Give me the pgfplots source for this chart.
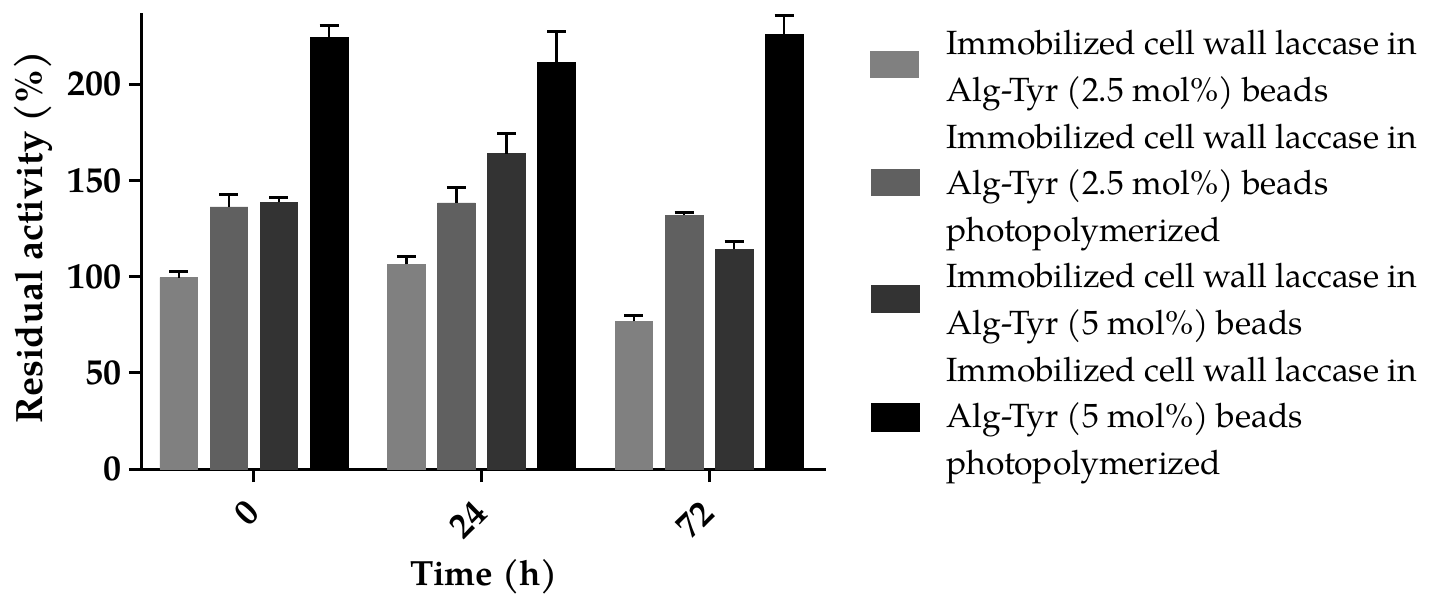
\documentclass[border=0pt]{standalone}
\usepackage{fontspec}
\setmainfont{TeX Gyre Pagella}
\usepackage{pgfplots}
\usepackage{pgfplotstable}
\pgfplotsset{compat=1.18}
\definecolor{c1}{RGB}{128,128,128}
\definecolor{c2}{RGB}{96,96,96}
\definecolor{c3}{RGB}{51,51,51}
\definecolor{c4}{RGB}{0,0,0}
\pgfplotstableread{
x y1 e1 y2 e2 y3 e3 y4 e4
0 99.5 3.0 136.2 6.6 138.6 2.4 224.1 6.6
1 106.3 4.4 138.3 8.0 163.9 10.7 211.3 16.3
2 76.7 3.0 132.0 1.4 114.1 4.4 225.9 9.8
}\datatable
\pgfplotsset{
  errstyle/.style={error bars/.cd, y dir=plus, y explicit,
    error bar style={line width=1.3pt, black},
    error mark options={rotate=90, mark size=4.75pt, line width=1.5pt, black}},
}
\begin{document}
\begin{tikzpicture}
\useasboundingbox (-71pt,-62.5pt) rectangle (649pt,234.5pt);
\begin{axis}[
  at={(0,0)}, anchor=south west,
  scale only axis, width=342pt, height=228pt,
  xmin=-0.492, xmax=2.514, ymin=0, ymax=237,
  clip=false,
  axis x line=bottom, axis y line=left,
  axis line style={-, line width=1.5pt, black},
  xtick={0,1,2}, xticklabels={0,24,72},
  ytick={0,50,100,150,200},
  tick align=outside, major tick length=6.5pt,
  tick style={line width=1.5pt, black},
  /pgf/number format/assume math mode=true,
  ticklabel style={font=\bfseries\fontsize{18}{18}\selectfont},
  xticklabel style={rotate=45, anchor=east, xshift=-5.66pt, yshift=-8.49pt},
  xlabel={Time (h)}, ylabel={Residual activity (\%)},
  xlabel style={font=\bfseries\fontsize{17.5}{17.5}\selectfont, at={(axis description cs:0.5,0)}, anchor=base, yshift=-58pt},
  ylabel style={font=\bfseries\fontsize{19}{19}\selectfont, at={(axis description cs:-0.1462,0.5077)}, anchor=base},
]
\addplot[ybar, bar width=0.166, bar shift=0pt, fill=c1, draw=c1, errstyle] table[x expr=\thisrow{x}-0.33, y=y1, y error=e1] {\datatable};
\addplot[ybar, bar width=0.166, bar shift=0pt, fill=c2, draw=c2, errstyle] table[x expr=\thisrow{x}-0.11, y=y2, y error=e2] {\datatable};
\addplot[ybar, bar width=0.166, bar shift=0pt, fill=c3, draw=c3, errstyle] table[x expr=\thisrow{x}+0.11, y=y3, y error=e3] {\datatable};
\addplot[ybar, bar width=0.166, bar shift=0pt, fill=c4, draw=c4, errstyle] table[x expr=\thisrow{x}+0.33, y=y4, y error=e4] {\datatable};
\end{axis}
% legend
\fill[c1] (364pt,195.5pt) rectangle (388.5pt,209pt);
\fill[c2] (364.5pt,136.5pt) rectangle (389pt,150pt);
\fill[c3] (364.5pt,78pt) rectangle (389pt,92pt);
\fill[c4] (364.5pt,18.5pt) rectangle (389pt,33pt);
\begin{scope}[every node/.style={anchor=base west, inner sep=0pt, font=\fontsize{16.8}{20}\selectfont}]
\node at (402pt,207pt) {Immobilized cell wall laccase in};
\node at (402pt,183.7pt) {Alg-Tyr (2.5 mol\%) beads};
\node at (402pt,160.4pt) {Immobilized cell wall laccase in};
\node at (402pt,137.1pt) {Alg-Tyr (2.5 mol\%) beads};
\node at (402pt,113.8pt) {photopolymerized};
\node at (402pt,90.5pt) {Immobilized cell wall laccase in};
\node at (402pt,67.2pt) {Alg-Tyr (5 mol\%) beads};
\node at (402pt,43.9pt) {Immobilized cell wall laccase in};
\node at (402pt,20.6pt) {Alg-Tyr (5 mol\%) beads};
\node at (402pt,-2.7pt) {photopolymerized};
\end{scope}
\end{tikzpicture}
\end{document}
